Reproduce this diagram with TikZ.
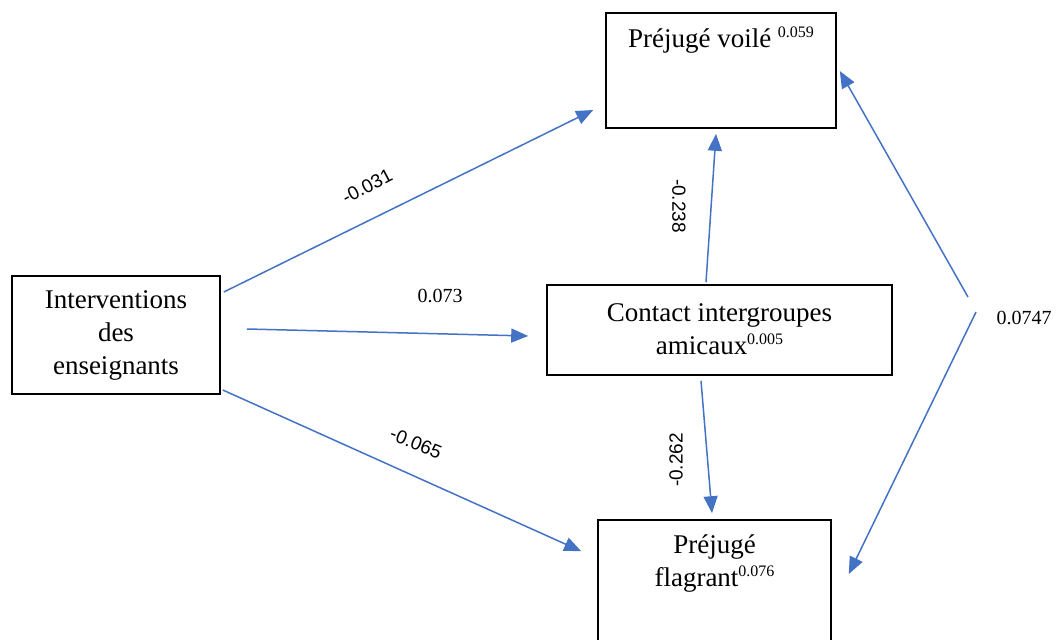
\documentclass[tikz,border=0pt]{standalone}
\usepackage{fontspec}
\setmainfont{Liberation Serif}
\newfontfamily\labsans{Liberation Sans}
\usetikzlibrary{arrows.meta,calc}
\definecolor{arrowblue}{HTML}{4472C4}
\newcommand\expo[1]{\raisebox{10pt}{\fontsize{16}{16}\selectfont #1}}
\begin{document}
\begin{tikzpicture}[x=1pt,y=-1pt,
  box/.style={draw=black,line width=1.6pt,inner sep=0pt,rectangle},
  boxtext/.style={font=\fontsize{27}{33}\selectfont,align=center,inner sep=0pt},
  conn/.style={draw=arrowblue,line width=1.5pt,-{Triangle[length=17pt,width=14pt]}},
  coef/.style={font=\fontsize{20}{20}\selectfont,inner sep=0pt},
  coefrot/.style={font=\labsans\fontsize{19}{19}\selectfont,inner sep=0pt}]
\useasboundingbox (0,0) rectangle (1056,639);
\clip (0,0) rectangle (1056,639);
% boxes
\node[box,minimum width=208pt,minimum height=118pt] (iv) at (116,335) {};
\node[box,minimum width=230pt,minimum height=115pt] (pv) at (721,70.5) {};
\node[box,minimum width=345pt,minimum height=90pt] (ct) at (719.5,330) {};
\node[box,minimum width=233pt,minimum height=160pt] (pf) at (714.5,600) {};
% box texts
\node[boxtext] (ivt) at (iv.center) {Interventions\\des\\enseignants};
\node[boxtext,anchor=base] (pvt) at ($(pv.north)+(0,35)$) {Préjugé voilé \expo{0.059}};
\node[boxtext] (ctt) at ($(ct.center)+(0,-1)$) {Contact intergroupes\\amicaux\expo{0.005}};
\node[boxtext] (pft) at ($(pf.north)+(0,44)$) {Préjugé\\flagrant\expo{0.076}};
% coefficients
\node[coefrot,rotate=28] (l1) at (367,186) {-0.031};
\node[coef] (l2) at (440,296) {0.073};
\node[coefrot,rotate=-22] (l3) at (416,443) {-0.065};
\node[coefrot,rotate=-90] (l4) at (679,206) {-0.238};
\node[coefrot,rotate=90] (l5) at (676,460) {-0.262};
\node[coef] (l6) at (1024,318) {0.0747};
% connectors
\draw[conn] ($(iv.east)+(3,-43)$) -- ($(pv.west)+(-12,39.5)$);
\draw[conn] ($(iv.east)+(26,-6)$) -- ($(ct.west)+(-18,6)$);
\draw[conn] ($(iv.east)+(2,55)$) -- ($(pf.north west)+(-16,32)$);
\draw[conn] ($(ct.north)+(-13.5,-2)$) -- ($(pv.south)+(-5,5)$);
\draw[conn] ($(ct.south)+(-18.5,5)$) -- ($(pf.north)+(-2.5,-6)$);
\draw[conn] ($(l6)+(-56,-21)$) -- ($(pv.east)+(3,0.5)$);
\draw[conn] ($(l6)+(-48,-6)$) -- ($(pf.east)+(17,-26)$);
\end{tikzpicture}
\end{document}
